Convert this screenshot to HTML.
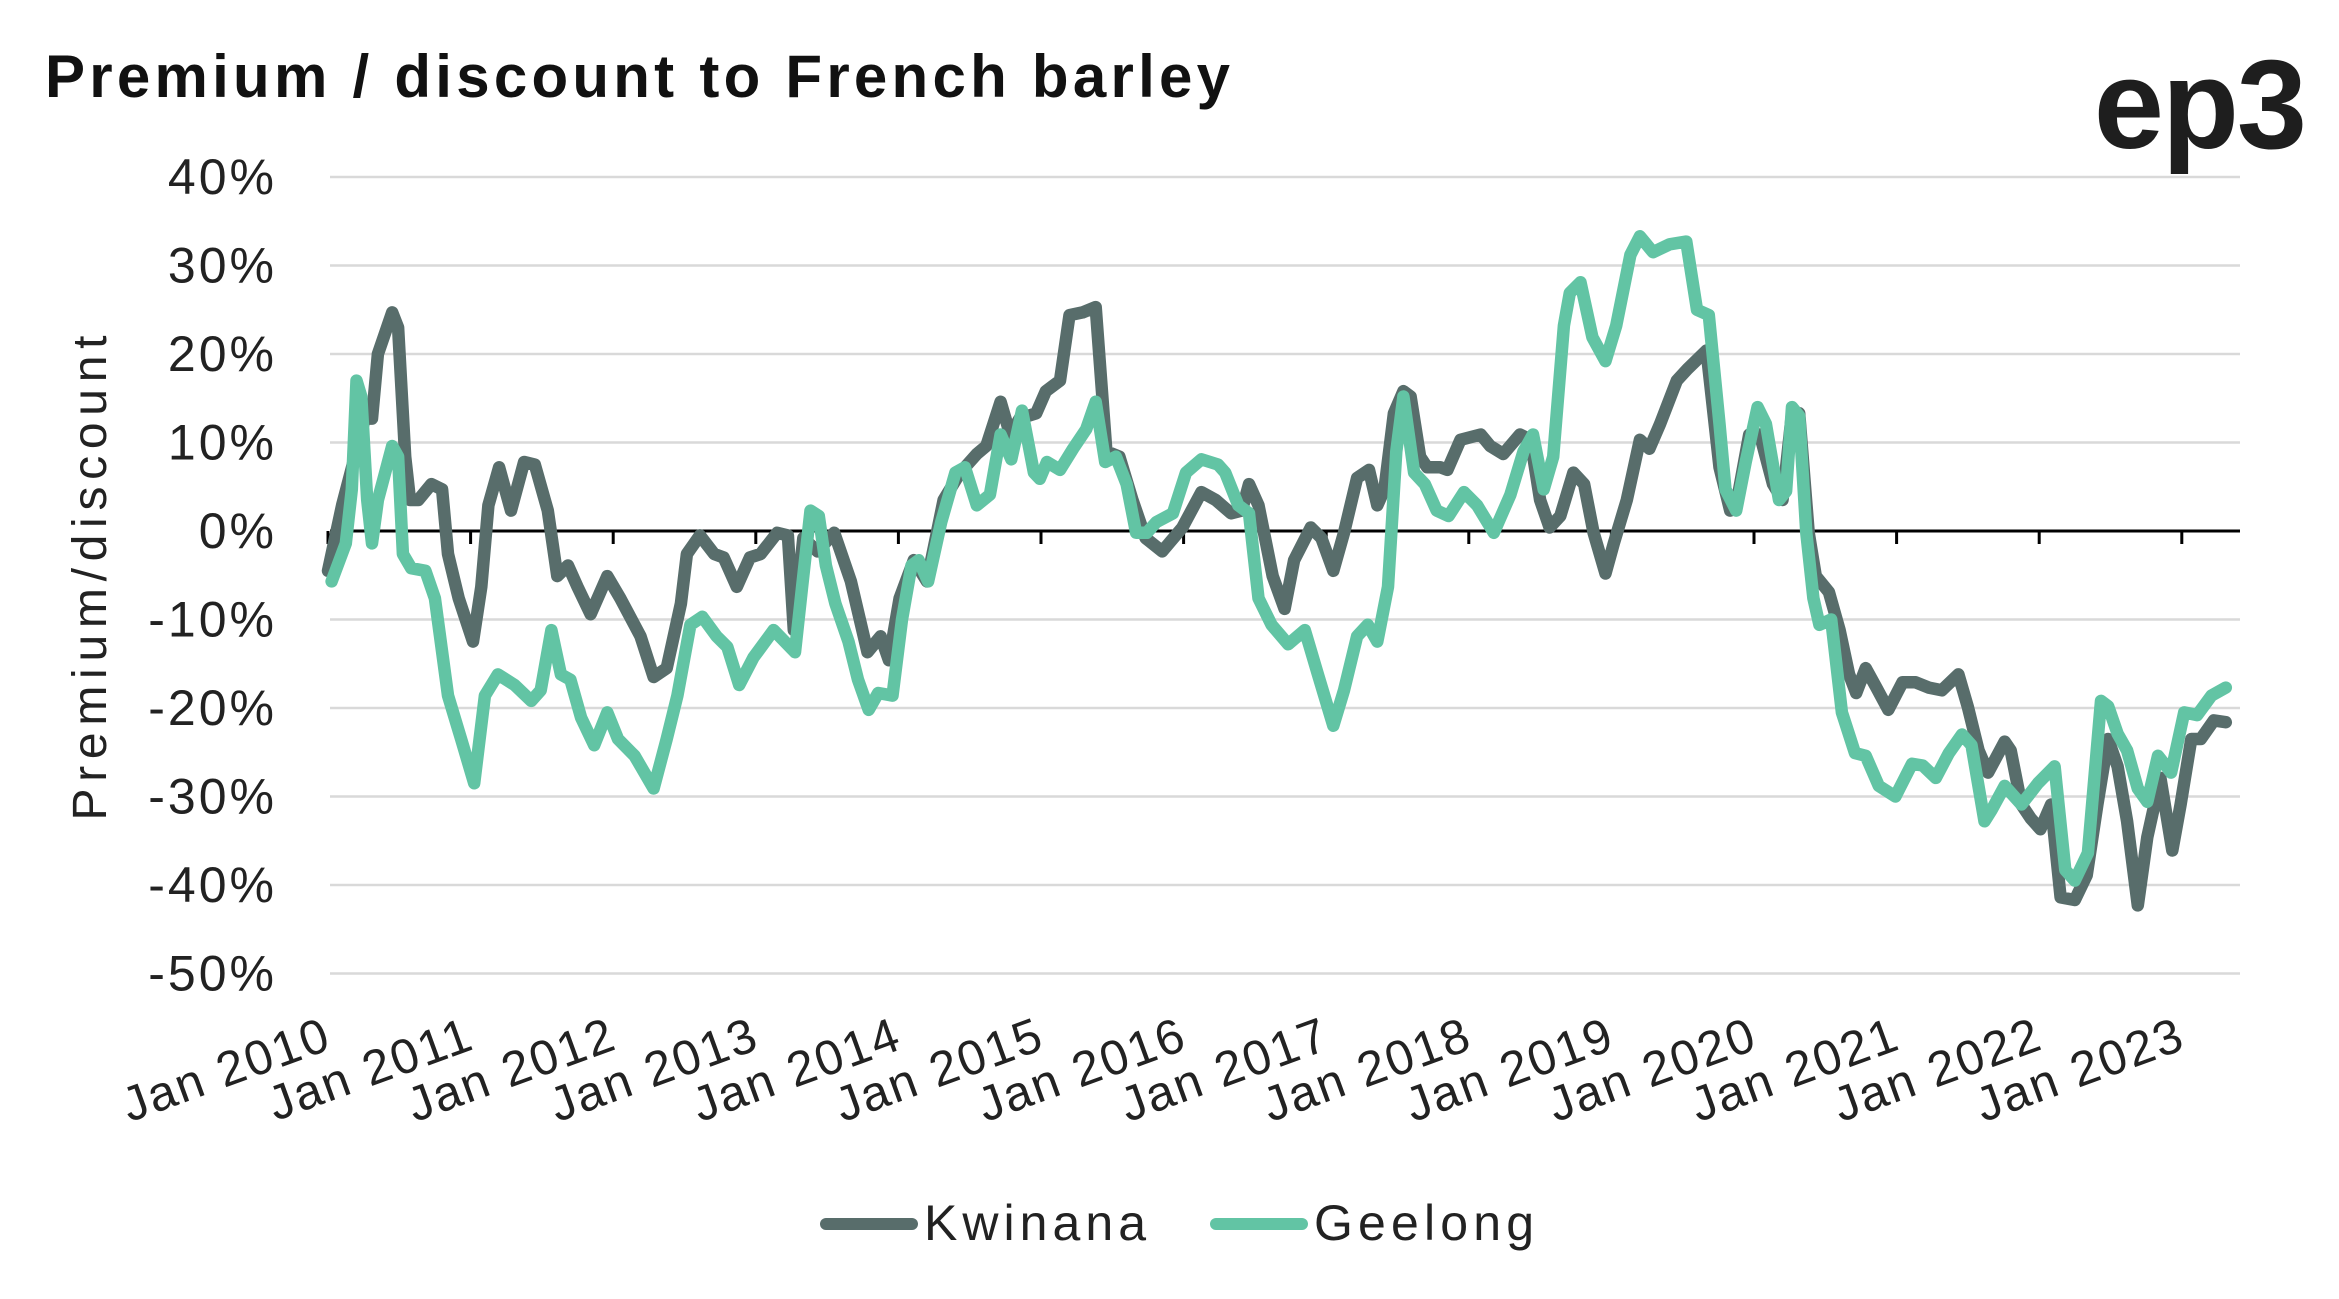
<!DOCTYPE html>
<html><head><meta charset="utf-8"><style>
html,body{margin:0;padding:0;background:#fff;}
svg{display:block;font-family:"Liberation Sans",sans-serif;}
</style></head><body>
<svg id="chart" width="2339" height="1299" viewBox="0 0 2339 1299" xmlns="http://www.w3.org/2000/svg">
<text x="45" y="97" font-size="60" font-weight="bold" fill="#111" textLength="1185" lengthAdjust="spacing">Premium / discount to French barley</text>
<text x="2305" y="148" text-anchor="end" font-size="126" font-weight="bold" fill="#1e1e1e" letter-spacing="-2">ep3</text>
<g id="grid"></g>
<g id="yticks"></g>
<g id="xaxis"></g>
<g id="series"></g>
<text transform="translate(106,578) rotate(-90)" text-anchor="middle" font-size="48" fill="#222" textLength="485" lengthAdjust="spacing">Premium/discount</text>
<g>
<g>
<line x1="826" y1="1224" x2="912" y2="1224" stroke="#586d6b" stroke-width="12" stroke-linecap="round"/>
<text x="924" y="1240" font-size="50" fill="#222" textLength="222" lengthAdjust="spacing">Kwinana</text></g>
<g>
<line x1="1216" y1="1224" x2="1302" y2="1224" stroke="#62c4a4" stroke-width="12" stroke-linecap="round"/>
<text x="1314" y="1240" font-size="50" fill="#222" textLength="220" lengthAdjust="spacing">Geelong</text></g>
</g>
</svg>
<script>
// months since Jan 2010
const kwMonths=[0,1.2,3.1,3.7,4.2,5.4,5.9,6.5,6.9,7.6,8.7,9.6,10.1,11,12.2,12.9,13.5,14.4,15.4,16.5,17.4,18.5,19.3,20.2,21,22.1,23.5,24.6,26.3,27.4,28.5,29.7,30.2,31.3,32.5,33.3,34.4,35.5,36.4,37.8,38.7,39.2,40,41.2,42.6,44,45.4,46.5,47.2,48.1,49.3,50.4,51.8,53.2,54.6,55.4,56.6,57.4,58.2,59.6,60.4,61.6,62.4,63.5,64.6,65.5,66.6,67.7,68.8,70.2,71.9,73.5,74.7,76,76.9,77.5,78.3,79.5,80.5,81.3,82.7,83.6,84.6,85.5,86.6,87.6,88.3,88.9,89.7,90.5,91.1,91.9,92.5,93.6,94.2,95.3,97,97.8,98.9,100.3,101.2,102,102.8,103.7,104.8,105.7,106.5,107.5,108.2,109.3,110.4,111.2,112.1,113.5,114.4,116,117.1,118,118.5,119.6,120.5,121.6,122.4,123.2,123.8,124.6,125.2,126.3,127.2,128,128.6,129.4,130.3,131.3,132.5,133.6,134.7,135.8,137.2,138,138.9,139.7,141.1,141.6,142.5,143.3,144.1,145,145.8,147,148,148.9,149.8,150.6,151.4,152.3,153.1,154.2,155.2,155.9,156.8,157.6,158.7,159.7];
const kwValues=[-4.5,3,12.7,12.7,20,24.7,23,8.4,3.5,3.5,5.3,4.7,-2.6,-7.6,-12.5,-6.3,2.9,7.2,2.3,7.8,7.5,2.3,-5.1,-3.9,-6.3,-9.4,-5.1,-7.6,-11.9,-16.5,-15.5,-8.2,-2.6,-0.5,-2.6,-3,-6.3,-3,-2.6,-0.2,-0.5,-11.2,-0.8,-2.3,-0.2,-5.7,-13.7,-11.9,-14.6,-7.6,-3.3,-5.7,3.5,6.6,8.7,9.6,14.6,10.9,12.7,13.3,15.8,17,24.4,24.7,25.3,9,8.4,3.5,-0.8,-2.3,0.4,4.4,3.5,2,2.3,5.3,2.9,-5.1,-8.8,-3.3,0.4,-0.8,-4.5,-0.2,6,6.9,2.9,4.7,13.3,15.8,15.2,8.4,7.2,7.2,6.9,10.3,10.9,9.6,8.7,10.9,10.3,3.5,0.4,1.7,6.6,5.3,-0.2,-4.8,-1.4,3.5,10.3,9.3,12.1,17,18.3,20.4,7.2,2.3,2.9,10.9,10.9,5.3,3.5,13.3,13.3,-0.2,-5.1,-6.9,-11.2,-16.2,-18.3,-15.5,-17.7,-20.2,-17.1,-17.1,-17.7,-18,-16.2,-19.9,-24.8,-27.3,-23.8,-24.8,-30.9,-32.5,-33.7,-30.9,-41.4,-41.7,-38.9,-30.9,-23.5,-26.6,-32.8,-42.3,-34.6,-27.9,-36.1,-30.9,-23.5,-23.5,-21.4,-21.6];
const geMonths=[0.3,1.5,2,2.4,2.8,3.3,3.7,4.2,5.4,5.9,6.3,7,8.2,9,10.1,11.2,12.3,13.2,14.3,15.7,17.1,17.9,18.8,19.6,20.4,21.3,22.4,23.5,24.4,25.8,27.4,28.5,29.4,30.5,31.5,32.7,33.6,34.6,35.8,37.5,39.3,39.9,40.6,41.3,41.9,42.7,43.8,44.6,45.5,46.3,47.5,48.3,49.1,49.7,50.5,51.6,52.8,53.6,54.6,55.7,56.6,57.5,58.4,59.4,59.9,60.5,61.6,62.7,63.8,64.6,65.4,66.3,67.2,68,68.9,69.7,71.1,72.2,73.5,74.9,75.5,76.6,77.5,78.3,79.4,80.8,82.2,83.3,84.6,85.5,86.6,87.5,88.3,89.2,89.9,90.5,91.4,92.3,93.3,94.3,95.6,96.7,98.1,99.5,100.6,101.4,102.3,103.1,104,104.5,105.4,106.4,107.5,108.4,109.6,110.4,111.5,112.9,114.3,115.2,116.2,117.1,117.6,118.5,119.3,120.3,121,122.1,122.7,123.2,123.8,124.4,125,125.5,126.5,127.4,128.5,129.4,130.5,131.9,133.3,134.2,135.3,136.4,137.5,138.3,139.4,140,141.1,142.5,143.9,145.3,146.2,147,148.1,149.2,149.8,150.6,151.4,152.3,153.1,154,155.1,156.2,157.3,158.5,159.7];
const geValues=[-5.7,-1.4,4.7,17,15.2,3.5,-1.4,3.5,9.6,8.4,-2.6,-4.2,-4.5,-7.6,-18.6,-23.5,-28.5,-18.6,-16.2,-17.4,-19.2,-18,-11.2,-16.2,-16.8,-21.1,-24.2,-20.5,-23.5,-25.4,-29.1,-23.5,-18.6,-10.6,-9.7,-11.9,-13.1,-17.4,-14.3,-11.2,-13.7,-6.3,2.3,1.7,-3.9,-8.2,-12.5,-16.8,-20.2,-18.3,-18.6,-10,-3.9,-3.3,-5.7,1,6.6,7.2,2.9,4.1,10.9,8.1,13.6,6.6,5.9,7.8,6.9,9.3,11.5,14.6,7.8,8.4,5.3,-0.2,-0.2,1,2,6.6,8.1,7.5,6.6,2.9,2,-7.6,-10.6,-12.8,-11.2,-16.2,-22,-18,-11.9,-10.6,-12.5,-6.3,9,15.2,6.6,5.3,2.3,1.7,4.4,2.9,-0.2,4.1,9,10.9,4.7,8.4,23.2,26.9,28.1,21.9,19.2,23.2,31.2,33.3,31.5,32.4,32.7,25,24.4,12.1,4.7,2.3,7.8,14,12.1,3.5,4.5,14,13,-0.2,-7.6,-10.6,-10,-20.5,-25.1,-25.4,-28.8,-30,-26.3,-26.5,-27.9,-25.1,-23,-24.2,-32.8,-31.5,-28.8,-30.9,-28.5,-26.6,-38.3,-39.5,-36.4,-19.2,-19.8,-22.9,-24.8,-29.1,-30.6,-25.4,-27.3,-20.5,-20.8,-18.6,-17.7];
const yTickValues=[40,30,20,10,0,-10,-20,-30,-40,-50];
const yTickLabels=["40%","30%","20%","10%","0%","-10%","-20%","-30%","-40%","-50%"];
const xTickYears=[2010,2011,2012,2013,2014,2015,2016,2017,2018,2019,2020,2021,2022,2023];

const NS="http://www.w3.org/2000/svg";
const X0=328,MW=142.6/12,XR=2240;
const x=m=>X0+m*MW;
const y=v=>531-v*8.85;
function mk(tag,attrs,parent,txt){const e=document.createElementNS(NS,tag);for(const k in attrs)e.setAttribute(k,attrs[k]);if(txt!==undefined)e.textContent=txt;parent.appendChild(e);return e;}
const grid=document.getElementById('grid'),yt=document.getElementById('yticks'),xa=document.getElementById('xaxis'),ser=document.getElementById('series');
yTickValues.forEach((v,i)=>{
  if(v!==0){const g=mk('line',{x1:330,x2:XR,y1:y(v),y2:y(v),stroke:'#d9d9d9','stroke-width':2.5},grid);
  
  }
  const t=mk('text',{x:277,y:y(v)+17,'text-anchor':'end','font-size':50,'letter-spacing':3,fill:'#222'},yt,yTickLabels[i]);
  
  
});
const ax=mk('line',{x1:330,x2:XR,y1:y(0),y2:y(0),stroke:'#000','stroke-width':3},xa);


xTickYears.forEach(yr=>{
  const m=(yr-2010)*12,px=x(m);
  const tk=mk('line',{x1:px,x2:px,y1:y(0),y2:y(0)+13,stroke:'#000','stroke-width':3},xa);
  
  
  const t=mk('text',{'text-anchor':'end','font-size':49,'letter-spacing':2,fill:'#222',transform:`translate(${px+6},1048) rotate(-20)`},xa,'Jan '+yr);
  
  
});
function line(ms,vs,color,name){
  const d=ms.map((m,i)=>(i?'L':'M')+x(m).toFixed(1)+' '+y(vs[i]).toFixed(1)).join(' ');
  const p=mk('path',{d:d,fill:'none',stroke:color,'stroke-width':12.5,'stroke-linejoin':'round','stroke-linecap':'round'},ser);
  
  
}
line(kwMonths,kwValues,'#586d6b','kwinana-line');
line(geMonths,geValues,'#62c4a4','geelong-line');
</script>
</body></html>
